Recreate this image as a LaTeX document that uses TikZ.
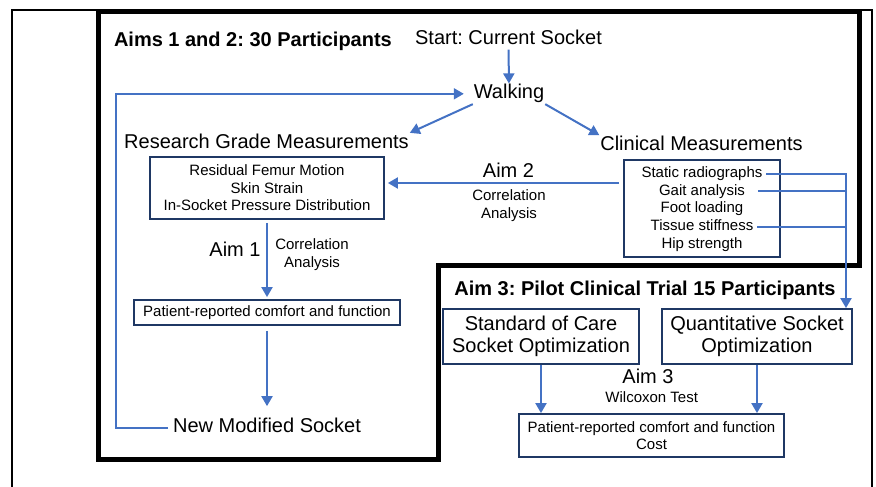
\documentclass[tikz,border=0pt]{standalone}
\usepackage{fontspec}
\setmainfont{Liberation Sans}
\frenchspacing
\usetikzlibrary{arrows.meta}
\definecolor{flowblue}{RGB}{68,114,196}
\definecolor{boxnavy}{RGB}{31,56,100}

\begin{document}
\begin{tikzpicture}[x=1pt,y=-1pt,>={Triangle[width=11pt,length=10pt]},line width=2pt,big node/.style={inner sep=0pt,font=\fontsize{20}{22}\selectfont,text height=14.5pt,text depth=4.2pt},small node/.style={inner sep=0pt,font=\fontsize{15}{17.5}\selectfont,align=center},item node/.style={small node,inner xsep=3pt,text height=10.9pt,text depth=3.2pt},box node/.style={draw=boxnavy,line width=1.8pt,align=center},flow/.style={->,draw=flowblue,line width=2pt}]
            \useasboundingbox (0,0) rectangle (876,487);
            \draw[line width=2pt] (12,495) -- (12,10) -- (872,10) -- (872,495);
            \draw[line width=5pt] (98,12) -- (859,12) -- (859,265.5) -- (438,265.5) -- (438,459.5) -- (98,459.5) -- cycle;

            \node[big node,anchor=west,font=\fontsize{20}{22}\selectfont\bfseries] (t1) at (113,41.3) {Aims 1 and 2: 30 Participants};
            \node[big node] (s) at (508.5,39.2) {Start: Current Socket};
            \node[big node] (w) at (509,93.8) {Walking};
            \node[big node] (rg) at (266.5,143.2) {Research Grade Measurements};
            \node[big node] (cm) at (701.5,145.5) {Clinical Measurements};
            \node[small node,box node,minimum width=234pt,minimum height=62pt] (rb) at (267,188) {Residual Femur Motion\\Skin Strain\\In-Socket Pressure Distribution};
            \node[box node,minimum width=156pt,minimum height=97pt] (cb) at (702,208.5) {};
            \node[item node] (c1) at (702,173.5) {Static radiographs};
            \node[item node] (c2) at (702,191.2) {Gait analysis};
            \node[item node] (c3) at (702,208.9) {Foot loading};
            \node[item node] (c4) at (702,226.6) {Tissue stiffness};
            \node[item node] (c5) at (702,244.3) {Hip strength};
            \node[big node] (aim2) at (508.5,172.2) {Aim 2};
            \node[small node] (ca2) at (509,205.6) {Correlation\\Analysis};
            \node[big node] (aim1) at (235,251) {Aim 1};
            \node[small node] (ca1) at (312,254.6) {Correlation\\Analysis};
            \node[small node,box node,minimum width=266pt,minimum height=25pt] (pl) at (267,312.5) {Patient-reported comfort and function};
            \node[big node,inner xsep=4pt] (nms) at (267,427.5) {New Modified Socket};

            \node[big node,font=\fontsize{20}{22}\selectfont\bfseries] (t3) at (645,290) {Aim 3: Pilot Clinical Trial 15 Participants};
            \node[box node,font=\fontsize{20}{22}\selectfont,minimum width=196pt,minimum height=55pt] (soc) at (541,336.5) {Standard of Care\\Socket Optimization};
            \node[box node,font=\fontsize{20}{22}\selectfont,minimum width=190pt,minimum height=55pt] (q) at (757,336.5) {Quantitative Socket\\Optimization};
            \node[big node] (aim3) at (648,378) {Aim 3};
            \node[item node] (wt) at (651.7,398.5) {Wilcoxon Test};
            \node[small node,box node,font=\fontsize{15}{16.5}\selectfont,minimum width=265pt,minimum height=43pt] (pr) at (651.5,435.5) {Patient-reported comfort and function\\Cost};

            \coordinate (a2) at (0,183);
            \coordinate (j) at (846,173.5);
            \coordinate (lp) at (116,93.8);

            \path[every edge/.style={flow}]
                (s) edge (w)
                (w.south west) edge (rg.north east)
                (w.south east) edge (cm.north west)
                (rb) edge[shorten <=3pt,shorten >=2pt] (pl)
                (pl) edge[shorten <=5pt,shorten >=11pt] (nms)
                (soc) edge (soc.south |- pr.north)
                (q) edge (q.south |- pr.north)
                ;
            \draw[flow,shorten <=4pt,shorten >=3pt] (cb.west |- a2) -- (rb.east |- a2);
            \draw[flow] (c1.east) -- (j) -- (j |- q.north);
            \draw[draw=flowblue,shorten <=9pt] (c2.east) -- (c2 -| j);
            \draw[draw=flowblue] (c4.east) -- (c4 -| j);
            \draw[flow,shorten >=9pt] (nms.west) -| (lp) |- (w.west);
        \end{tikzpicture}
\end{document}
